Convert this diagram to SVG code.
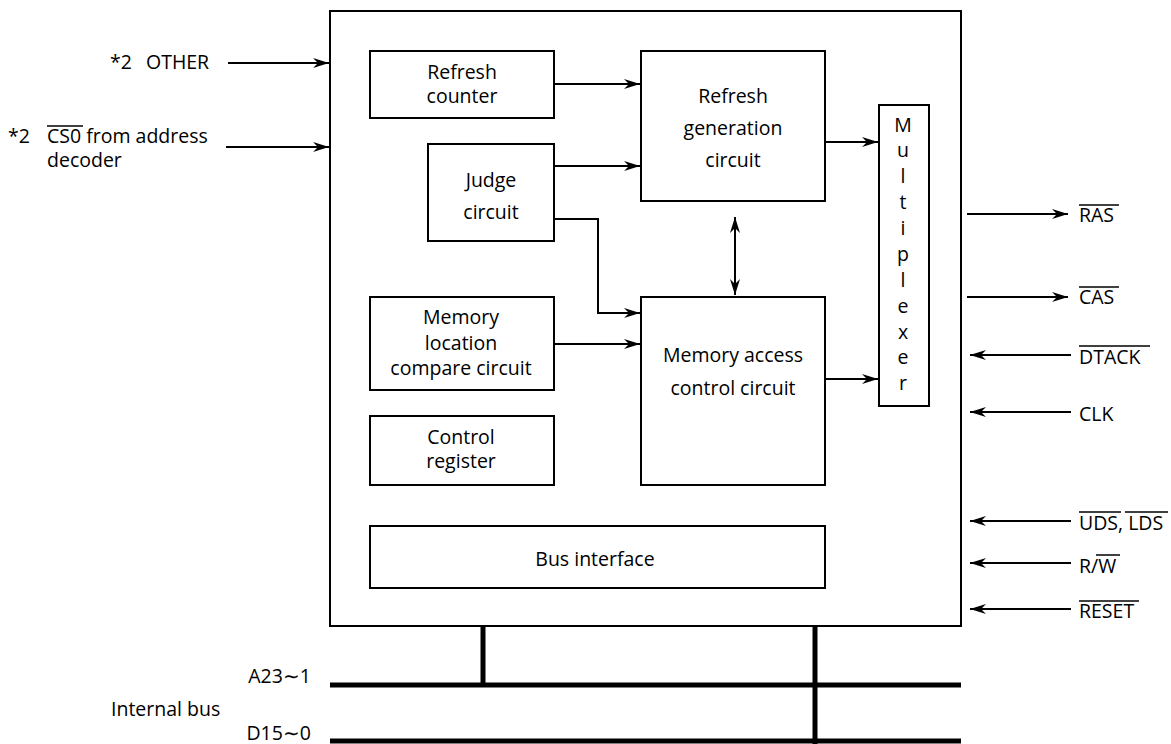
<svg xmlns="http://www.w3.org/2000/svg" width="1171" height="744" viewBox="0 0 1171 744">
<style>
text{font-family:"Open Sans","Noto Sans","Liberation Sans",sans-serif;font-size:19.5px;fill:#000}
.c{text-anchor:middle}
.e{text-anchor:end}
.box{fill:#fff;stroke:#000;stroke-width:2}
.ln{fill:none;stroke:#000;stroke-width:2}
.bus{fill:none;stroke:#000;stroke-width:5}
.ov{stroke:#000;stroke-width:1.5}
</style>
<defs>
<marker id="ah" viewBox="-17 -6 18 12" refX="0" refY="0" markerWidth="18" markerHeight="12" markerUnits="userSpaceOnUse" orient="auto-start-reverse">
<path d="M0,0 L-16,-5 L-11,0 L-16,5 Z" fill="#000"/>
</marker>
</defs>
<rect width="1171" height="744" fill="#fff"/>
<g id="outer"><rect class="box" x="330" y="11" width="631" height="615"/></g>
<g id="refresh-counter"><rect class="box" x="370" y="51" width="184" height="67"/>
<text class="c" x="462" y="79">Refresh</text><text class="c" x="462" y="103">counter</text></g>
<g id="judge"><rect class="box" x="428" y="144" width="126" height="97"/>
<text class="c" x="491" y="187">Judge</text><text class="c" x="491" y="219">circuit</text></g>
<g id="refresh-gen"><rect class="box" x="641" y="51" width="184" height="150"/>
<text class="c" x="733" y="103">Refresh</text><text class="c" x="733" y="135">generation</text><text class="c" x="733" y="167">circuit</text></g>
<g id="mux"><rect class="box" x="879" y="105" width="50" height="301"/>
<text class="c" x="903" y="132">M</text><text class="c" x="903" y="157">u</text><text class="c" x="903" y="183">l</text><text class="c" x="903" y="209">t</text><text class="c" x="903" y="235">i</text><text class="c" x="903" y="261">p</text><text class="c" x="903" y="287">l</text><text class="c" x="903" y="313">e</text><text class="c" x="903" y="339">x</text><text class="c" x="903" y="364">e</text><text class="c" x="903" y="390">r</text></g>
<g id="mem-compare"><rect class="box" x="370" y="297" width="184" height="93"/>
<text class="c" x="461" y="324">Memory</text><text class="c" x="461" y="350">location</text><text class="c" x="461" y="375">compare circuit</text></g>
<g id="control-register"><rect class="box" x="370" y="416" width="184" height="69"/>
<text class="c" x="461" y="444">Control</text><text class="c" x="461" y="468">register</text></g>
<g id="mem-access"><rect class="box" x="641" y="297" width="184" height="188"/>
<text class="c" x="733" y="362">Memory access</text><text class="c" x="733" y="395">control circuit</text></g>
<g id="bus-interface"><rect class="box" x="370" y="526" width="455" height="62"/>
<text class="c" x="595" y="566">Bus interface</text></g>
<g id="connectors">
<path class="ln" marker-end="url(#ah)" d="M228,63 H329"/>
<path class="ln" marker-end="url(#ah)" d="M226,147 H329"/>
<path class="ln" marker-end="url(#ah)" d="M554,84 H640"/>
<path class="ln" marker-end="url(#ah)" d="M554,166 H640"/>
<path class="ln" marker-end="url(#ah)" d="M554,219 H598 V313 H640"/>
<path class="ln" marker-end="url(#ah)" d="M554,344 H640"/>
<path class="ln" marker-start="url(#ah)" marker-end="url(#ah)" d="M735,217 V295"/>
<path class="ln" marker-end="url(#ah)" d="M825,142 H878"/>
<path class="ln" marker-end="url(#ah)" d="M825,379 H878"/>
<path class="ln" marker-end="url(#ah)" d="M967,214 H1068"/>
<path class="ln" marker-end="url(#ah)" d="M967,297 H1068"/>
<path class="ln" marker-end="url(#ah)" d="M1071,355 H970"/>
<path class="ln" marker-end="url(#ah)" d="M1071,412 H970"/>
<path class="ln" marker-end="url(#ah)" d="M1071,521 H970"/>
<path class="ln" marker-end="url(#ah)" d="M1071,563 H970"/>
<path class="ln" marker-end="url(#ah)" d="M1071,609 H970"/>
<path class="bus" d="M330,685 H961"/>
<path class="bus" d="M330,741 H961"/>
<path class="bus" d="M483,626 V685"/>
<path class="bus" d="M815,626 V744"/>
</g>
<g id="labels">
<text x="110" y="69">*2</text><text x="146" y="69">OTHER</text>
<text x="8" y="143">*2</text><text x="47" y="143">CS0 from address</text><text x="47" y="167">decoder</text>
<line class="ov" x1="47" y1="126" x2="83" y2="126"/>
<text x="1079" y="222">RAS</text><line class="ov" x1="1079" y1="205" x2="1119" y2="205"/>
<text x="1079" y="304">CAS</text><line class="ov" x1="1079" y1="287" x2="1119" y2="287"/>
<text x="1079" y="364">DTACK</text><line class="ov" x1="1079" y1="346" x2="1150" y2="346"/>
<text x="1079" y="421">CLK</text>
<text x="1079" y="530">UDS, LDS</text><line class="ov" x1="1079" y1="512" x2="1121" y2="512"/><line class="ov" x1="1125" y1="512" x2="1168" y2="512"/>
<text x="1079" y="573">R/W</text><line class="ov" x1="1096" y1="555" x2="1120" y2="555"/>
<text x="1079" y="618">RESET</text><line class="ov" x1="1079" y1="601" x2="1139" y2="601"/>
<text class="e" x="311" y="683">A23∼1</text>
<text x="111" y="716">Internal bus</text>
<text class="e" x="311" y="740">D15∼0</text>
</g>
</svg>
